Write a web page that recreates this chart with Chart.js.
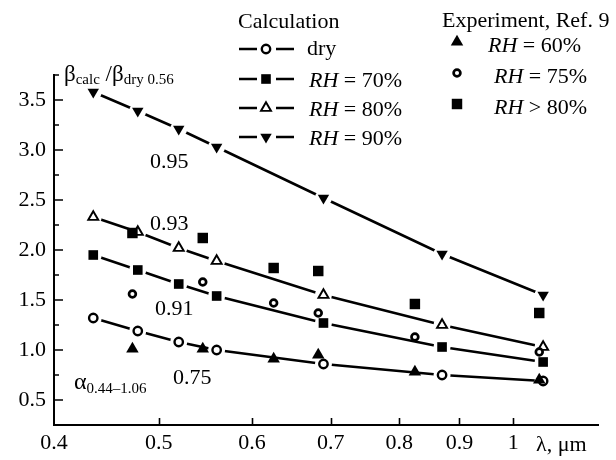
<!DOCTYPE html>
<html>
<head>
<meta charset="utf-8">
<script src="https://cdn.jsdelivr.net/npm/chart.js@4.4.1/dist/chart.umd.min.js"></script>
<style>
  html, body { margin: 0; padding: 0; background: #fff; }
</style>
</head>
<body>
<canvas id="chart" width="616" height="460"></canvas>
<script>
// calculated spectra (lines)
const wavelengths = [0.44, 0.48, 0.52, 0.56, 0.69, 0.87, 1.06];
const dryValues  = [1.32, 1.19, 1.08, 1.00, 0.86, 0.75, 0.69];
const rh70Values = [1.95, 1.80, 1.66, 1.54, 1.27, 1.03, 0.88];
const rh80Values = [2.33, 2.18, 2.02, 1.89, 1.55, 1.25, 1.03];
const rh90Values = [3.58, 3.39, 3.21, 3.03, 2.52, 1.96, 1.55];

// experiment, Ref. 9 (markers only)
const expWavelengths = [0.475, 0.545, 0.626, 0.683, 0.825, 1.052];
const exp60Values = [1.01, 1.01, 0.91, 0.95, 0.78, 0.70];
const exp75Values = [1.56, 1.68, 1.47, 1.37, 1.13, 0.98];
const exp80Values = [2.17, 2.12, 1.82, 1.79, 1.46, 1.37];

const xTickValues = [0.4, 0.5, 0.6, 0.7, 0.8, 0.9, 1];
const xTickLabels = ['0.4', '0.5', '0.6', '0.7', '0.8', '0.9', '1'];

const FONT = "'Liberation Serif', 'Times New Roman', serif";
const X_MIN = 0.4075, X_MAX = 1.18;

const markers = {
  dry:  { pointStyle: 'circle',   radius: 4.2, rotation: 0,   borderWidth: 2.4, fill: '#fff' },
  rh70: { pointStyle: 'rect',     radius: 6.8, rotation: 0,   borderWidth: 0,   fill: '#000' },
  rh80: { pointStyle: 'triangle', radius: 5.8, rotation: 0,   borderWidth: 1.9, fill: '#fff' },
  rh90: { pointStyle: 'triangle', radius: 6.6, rotation: 180, borderWidth: 0,   fill: '#000' },
  e60:  { pointStyle: 'triangle', radius: 7.2, rotation: 0,   borderWidth: 0,   fill: '#000' },
  e75:  { pointStyle: 'circle',   radius: 3.4, rotation: 0,   borderWidth: 2.7, fill: '#fff' },
  e80:  { pointStyle: 'rect',     radius: 7.4, rotation: 0,   borderWidth: 0,   fill: '#000' }
};

function pts(xs, ys) {
  return xs.map((x, i) => ({ x: x, y: ys[i] }));
}

function markerSet(label, data, m, order) {
  return {
    label: label,
    data: data,
    showLine: false,
    order: order,
    pointStyle: m.pointStyle,
    pointRadius: m.radius,
    pointRotation: m.rotation,
    pointBorderWidth: m.borderWidth,
    pointBorderColor: '#000',
    pointBackgroundColor: m.fill,
    pointHoverRadius: m.radius
  };
}

function lineSet(label, data) {
  // line with white halos so it breaks around each marker
  return {
    label: label,
    data: data,
    showLine: true,
    order: 3,
    borderColor: '#000',
    borderWidth: 2.5,
    tension: 0,
    pointStyle: 'circle',
    pointRadius: 8.5,
    pointBorderWidth: 0,
    pointBackgroundColor: '#fff',
    pointHoverRadius: 8.5
  };
}

const calc = [
  ['dry', dryValues, markers.dry],
  ['RH = 70%', rh70Values, markers.rh70],
  ['RH = 80%', rh80Values, markers.rh80],
  ['RH = 90%', rh90Values, markers.rh90]
];

const datasets = [];
calc.forEach(([label, vals, m]) => {
  datasets.push(lineSet(label, pts(wavelengths, vals)));
  datasets.push(markerSet(label, pts(wavelengths, vals), m, 2));
});
datasets.push(markerSet('RH = 60%', pts(expWavelengths, exp60Values), markers.e60, 1));
datasets.push(markerSet('RH = 75%', pts(expWavelengths, exp75Values), markers.e75, 1));
datasets.push(markerSet('RH > 80%', pts(expWavelengths, exp80Values), markers.e80, 1));

function putMarker(ctx, m, x, y) {
  ctx.save();
  ctx.fillStyle = m.fill;
  ctx.strokeStyle = '#000';
  ctx.lineWidth = m.borderWidth;
  Chart.helpers.drawPoint(ctx, m, x, y);
  ctx.restore();
}

// text runs: [text, size, italic, dy]
function rich(ctx, runs, x, y) {
  let cx = x;
  runs.forEach(([t, s, it, dy]) => {
    ctx.font = (it ? 'italic ' : '') + s + 'px ' + FONT;
    ctx.fillText(t, cx, y + (dy || 0));
    cx += ctx.measureText(t).width;
  });
}

const innerTicks = {
  id: 'innerTicks',
  afterDraw(chart) {
    const { ctx, scales: { x, y } } = chart;
    ctx.save();
    ctx.strokeStyle = '#000';
    ctx.lineWidth = 1.6;
    ctx.beginPath();
    x.ticks.forEach((t, i) => {
      if (i === 0) return;
      const px = Math.round(x.getPixelForValue(t.value)) + 0.5;
      ctx.moveTo(px, x.top);
      ctx.lineTo(px, x.top - 7);
    });
    y.ticks.forEach(t => {
      const py = Math.round(y.getPixelForValue(t.value));
      const major = Math.abs(t.value * 2 - Math.round(t.value * 2)) < 1e-6;
      ctx.moveTo(y.right, py);
      ctx.lineTo(y.right + (major ? 9 : 5), py);
    });
    ctx.stroke();
    ctx.restore();
  }
};

const annotations = {
  id: 'annotations',
  afterDraw(chart) {
    const ctx = chart.ctx;
    ctx.save();
    ctx.fillStyle = '#000';
    ctx.textBaseline = 'alphabetic';
    ctx.textAlign = 'left';

    // axis titles
    rich(ctx, [['\u03b2', 23], ['calc', 15, false, 3], [' /\u03b2', 23], ['dry 0.56', 15, false, 3]], 64, 81);
    rich(ctx, [['\u03bb, \u03bcm', 22]], 536, 451);

    // alpha values along the curves
    rich(ctx, [['0.95', 22]], 150, 168);
    rich(ctx, [['0.93', 22]], 150, 230);
    rich(ctx, [['0.91', 22]], 155, 315);
    rich(ctx, [['0.75', 22]], 173, 384);
    rich(ctx, [['\u03b1', 24], ['0.44\u20131.06', 15, false, 4]], 74, 389);

    // legend: calculation
    rich(ctx, [['Calculation', 22]], 238, 28);
    const calcRows = [49, 79, 108, 137];
    ctx.strokeStyle = '#000';
    ctx.lineWidth = 2.5;
    calc.forEach(([label, , m], i) => {
      const yy = calcRows[i];
      ctx.beginPath();
      ctx.moveTo(239, yy); ctx.lineTo(257, yy);
      ctx.moveTo(276, yy); ctx.lineTo(294, yy);
      ctx.stroke();
      putMarker(ctx, m, 266, yy);
      if (i === 0) {
        rich(ctx, [['dry', 22]], 307, yy + 6);
      } else {
        rich(ctx, [['RH', 22, true], [label.slice(2), 22]], 309, yy + 8);
      }
    });

    // legend: experiment
    rich(ctx, [['Experiment, Ref. 9', 22]], 442, 27);
    const expRows = [[44, markers.e60, ' = 60%', 488], [75, markers.e75, ' = 75%', 494], [106, markers.e80, ' > 80%', 494]];
    expRows.forEach(([yy, m, txt, tx]) => {
      putMarker(ctx, m, 457, yy - 2);
      rich(ctx, [['RH', 22, true], [txt, 22]], tx, yy + 8);
    });
    ctx.restore();
  }
};

new Chart(document.getElementById('chart'), {
  type: 'scatter',
  data: { datasets: datasets },
  plugins: [innerTicks, annotations],
  options: {
    responsive: false,
    animation: false,
    events: [],
    layout: { padding: { top: 75, right: 18, left: 0, bottom: 0 } },
    plugins: { legend: { display: false }, tooltip: { enabled: false } },
    scales: {
      x: {
        type: 'logarithmic',
        min: X_MIN,
        max: X_MAX,
        afterBuildTicks: scale => {
          scale.ticks = xTickValues.map((v, i) => ({ value: i === 0 ? X_MIN : v }));
        },
        afterFit: scale => { scale.height = 35; },
        grid: { drawOnChartArea: false, drawTicks: false },
        border: { display: true, color: '#000', width: 2 },
        ticks: {
          padding: 5,
          color: '#000',
          font: { family: FONT, size: 22 },
          maxRotation: 0,
          autoSkip: false,
          callback: (v, i) => xTickLabels[i]
        }
      },
      y: {
        min: 0.25,
        max: 3.75,
        afterFit: scale => { scale.width = 54; },
        grid: { drawOnChartArea: false, drawTicks: false },
        border: { display: true, color: '#000', width: 2 },
        ticks: {
          stepSize: 0.25,
          padding: 8,
          color: '#000',
          font: { family: FONT, size: 22 },
          autoSkip: false,
          callback: v => {
            const major = Math.abs(v * 2 - Math.round(v * 2)) < 1e-6;
            return major && v >= 0.5 && v <= 3.5 ? v.toFixed(1) : '';
          }
        }
      }
    }
  }
});
</script>
</body>
</html>
